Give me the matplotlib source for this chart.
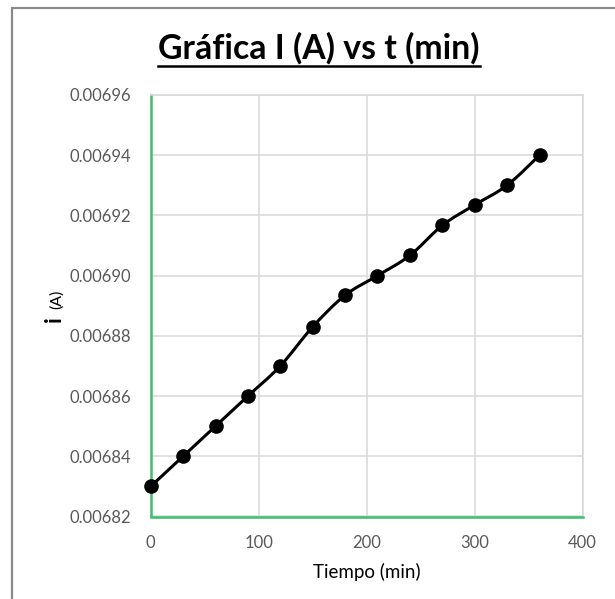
import numpy as np
import matplotlib
matplotlib.use("Agg")
import matplotlib.pyplot as plt
from matplotlib.path import Path
from matplotlib.patches import PathPatch, Rectangle
from matplotlib.lines import Line2D

# Current measured over time
tiempo_min = [0, 30, 60, 90, 120, 150, 180, 210, 240, 270, 300, 330, 360]
corriente_A = [0.00683, 0.00684, 0.00685, 0.00686, 0.00687, 0.006883, 0.0068935,
               0.00690, 0.0069067, 0.0069167, 0.0069235, 0.00693, 0.00694]
x_ticks = [0, 100, 200, 300, 400]
y_ticks = [0.00682, 0.00684, 0.00686, 0.00688, 0.00690, 0.00692, 0.00694, 0.00696]

FONT = ["Lato", "DejaVu Sans"]
plt.rcParams["font.family"] = FONT

W, H = 615, 599
fig = plt.figure(figsize=(W / 100, H / 100), dpi=100)

# chart-area border (left and top edges visible)
fig.patches.append(Rectangle((12 / W, -0.05), 1.2, 1.05 - 7.5 / H,
                             transform=fig.transFigure, fill=False,
                             edgecolor="#8a8a8a", linewidth=1.6))

ax = fig.add_axes([150.7 / W, 82.5 / H, 432 / W, 421.5 / H])
ax.set_xlim(0, 400)
ax.set_ylim(0.00682, 0.00696)
ax.set_xticks(x_ticks)
ax.set_yticks(y_ticks)
ax.set_xticklabels([str(v) for v in x_ticks])
ax.set_yticklabels([f"{v:.5f}" for v in y_ticks])
ax.tick_params(length=0, labelsize=12, labelcolor="#595959")
ax.tick_params(axis="y", pad=14)
ax.tick_params(axis="x", pad=13)
ax.grid(True, color="#d9d9d9", linewidth=1.1)
ax.set_axisbelow(True)
for s in ("top", "right"):
    ax.spines[s].set_color("#d9d9d9")
    ax.spines[s].set_linewidth(1.1)
for s in ("left", "bottom"):
    ax.spines[s].set_color("#3cbf6e")
    ax.spines[s].set_linewidth(1.8)

# smoothed line through the points (Catmull-Rom as cubic Bezier segments)
x = np.array(tiempo_min, float)
y = np.array(corriente_A, float)
n = len(x)
verts = [(x[0], y[0])]
codes = [Path.MOVETO]
for i in range(n - 1):
    p0 = np.array([x[max(i - 1, 0)], y[max(i - 1, 0)]])
    p1 = np.array([x[i], y[i]])
    p2 = np.array([x[i + 1], y[i + 1]])
    p3 = np.array([x[min(i + 2, n - 1)], y[min(i + 2, n - 1)]])
    c1 = p1 + (p2 - p0) / 6
    c2 = p2 - (p3 - p1) / 6
    verts += [tuple(c1), tuple(c2), tuple(p2)]
    codes += [Path.CURVE4] * 3
ax.add_patch(PathPatch(Path(verts, codes), facecolor="none", edgecolor="black",
                       linewidth=2.2, zorder=3, capstyle="round", joinstyle="round"))
ax.plot(tiempo_min, corriente_A, linestyle="none", marker="o", markersize=9.5,
        color="black", zorder=4, clip_on=False)

ax.set_xlabel("Tiempo (min)", fontsize=13.5, color="black", labelpad=9)

# y label: bold "i" with small "(A)"
fig.text(54 / W, 1 - 319 / H, "i", rotation=90, fontsize=16, fontweight="bold",
         ha="center", va="center")
fig.text(57 / W, 1 - 299 / H, "(A)", rotation=90, fontsize=11.5,
         ha="center", va="center")

# underlined title
title = fig.text(319 / W, 1 - 48 / H, "Gráfica I (A) vs t (min)", fontsize=24.3,
                 fontweight="bold", ha="center", va="center")
fig.canvas.draw()
bb = title.get_window_extent(fig.canvas.get_renderer())
uy = (H - 65.5) / H
fig.lines.append(Line2D([bb.x0 / W, bb.x1 / W], [uy, uy], transform=fig.transFigure,
                        color="black", linewidth=1.8))

fig.savefig("out.png", dpi=100)
